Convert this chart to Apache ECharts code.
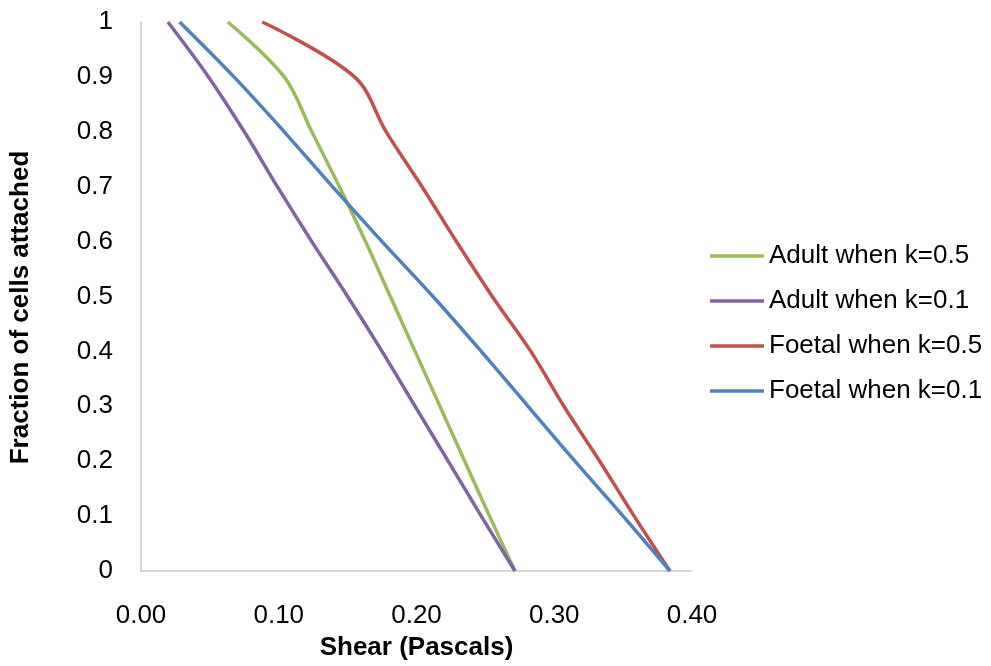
<!DOCTYPE html>
<html>
<head>
<meta charset="utf-8">
<script src="https://cdn.jsdelivr.net/npm/echarts@6/dist/echarts.min.js"></script>
<style>
html,body{margin:0;padding:0;background:#fff;}
#chart{width:991px;height:666px;}
</style>
</head>
<body>
<div id="chart"></div>
<script>
// ---- Data ----
const seriesNames = ["Adult when k=0.5", "Adult when k=0.1", "Foetal when k=0.5", "Foetal when k=0.1"];

// Fraction of cells attached (y) shared by every series
const fractionAttached = [1, 0.9, 0.8, 0.7, 0.6, 0.5, 0.4, 0.3, 0.2, 0.1, 0];

// Shear (Pascals) for each series at those fractions
const adultK05Shear  = [0.063, 0.104, 0.124, 0.144, 0.163, 0.181, 0.199, 0.217, 0.235, 0.253, 0.2715];
const adultK01Shear  = [0.0195, 0.049, 0.075, 0.099, 0.124, 0.150, 0.175, 0.199, 0.223, 0.247, 0.2715];
const foetalK05Shear = [0.088, 0.155, 0.178, 0.204, 0.229, 0.255, 0.283, 0.307, 0.333, 0.358, 0.384];
const foetalK01Shear = [0.028, 0.0675, 0.104, 0.139, 0.175, 0.212, 0.247, 0.281, 0.315, 0.350, 0.384];

const xAxisTitle = "Shear (Pascals)";
const yAxisTitle = "Fraction of cells attached";

// ---- Build chart ----
const colors = ["#9BBB59", "#8064A2", "#C0504D", "#4F81BD"];
const pairs = (xs, ys) => xs.map((x, i) => [x, ys[i]]);
const seriesData = [
  pairs(adultK05Shear, fractionAttached),
  pairs(adultK01Shear, fractionAttached),
  pairs(foetalK05Shear, fractionAttached),
  pairs(foetalK01Shear, fractionAttached)
];

const FONT = "'Liberation Sans', Arial, sans-serif";
const chart = echarts.init(document.getElementById('chart'), null, {renderer: 'canvas'});
chart.setOption({
  backgroundColor: '#ffffff',
  animation: false,
  color: colors,
  textStyle: {fontFamily: FONT},
  grid: {left: 139, right: 299, top: 22, bottom: 86, containLabel: false},
  legend: {
    orient: 'vertical',
    left: 705,
    top: 238,
    icon: 'rect',
    itemWidth: 54,
    itemHeight: 3.5,
    itemGap: 19,
    textStyle: {fontSize: 26, color: '#000', fontFamily: FONT},
    data: seriesNames
  },
  xAxis: {
    type: 'value',
    min: 0, max: 0.4, interval: 0.1,
    name: xAxisTitle,
    nameLocation: 'middle',
    nameGap: 64,
    nameTextStyle: {fontSize: 26, fontWeight: 'bold', color: '#000', fontFamily: FONT},
    axisLine: {show: true, lineStyle: {color: '#C8C8C8', width: 1.5}},
    axisTick: {show: false},
    splitLine: {show: false},
    axisLabel: {fontSize: 26, color: '#000', fontFamily: FONT, margin: 32,
      formatter: v => v.toFixed(2)}
  },
  yAxis: {
    type: 'value',
    min: 0, max: 1, interval: 0.1,
    name: yAxisTitle,
    nameLocation: 'middle',
    nameGap: 107,
    nameTextStyle: {fontSize: 26, fontWeight: 'bold', color: '#000', fontFamily: FONT,
      padding: [0, 22, 0, 0]},
    axisLine: {show: true, lineStyle: {color: '#C8C8C8', width: 1.5}},
    axisTick: {show: false},
    splitLine: {show: false},
    axisLabel: {fontSize: 26, color: '#000', fontFamily: FONT, margin: 28,
      formatter: v => String(Math.round(v * 10) / 10)}
  },
  series: seriesNames.map((name, i) => ({
    name: name,
    type: 'line',
    data: seriesData[i],
    showSymbol: false,
    symbol: 'none',
    smooth: 0.35,
    lineStyle: {width: 3.5, color: colors[i]},
    itemStyle: {color: colors[i]}
  }))
});
</script>
</body>
</html>
